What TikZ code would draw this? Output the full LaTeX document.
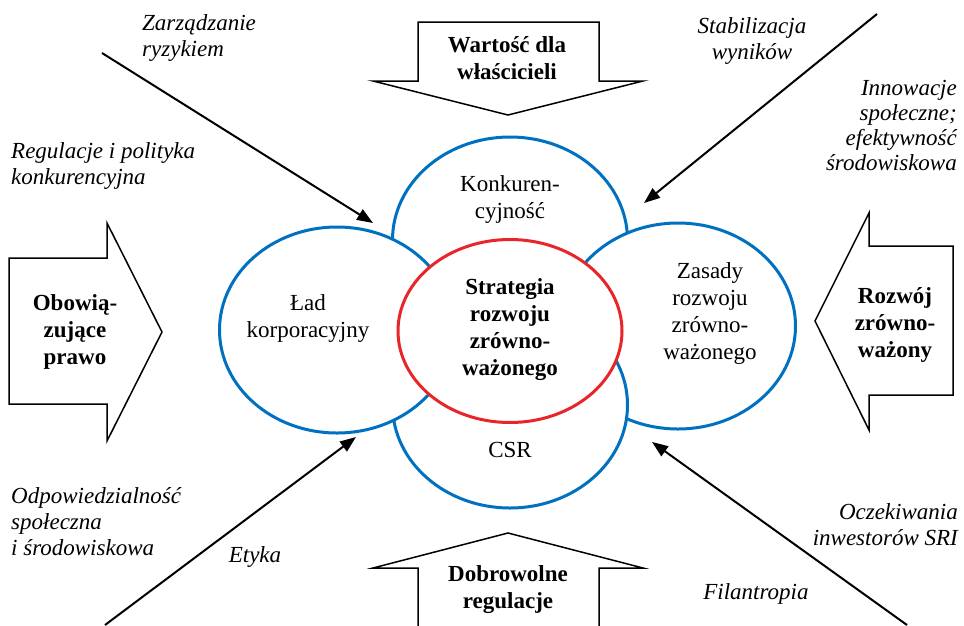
\documentclass[tikz,border=0pt]{standalone}
\usepackage{fontspec}
\setmainfont{Liberation Serif}
\usetikzlibrary{arrows.meta,shapes.geometric}
\definecolor{ringblue}{RGB}{0,112,192}
\definecolor{corered}{RGB}{232,38,42}
\begin{document}
\begin{tikzpicture}[x=1pt,y=-1pt,
  txt/.style={font=\fontsize{23}{27}\selectfont, align=center, inner sep=0pt},
  boldtxt/.style={txt, font=\fontsize{23}{27}\selectfont\bfseries},
  side/.style={font=\fontsize{23}{26}\selectfont\itshape, inner sep=0pt},
  ring/.style={ellipse, draw=ringblue, line width=3pt, fill=white, inner sep=0pt,
               minimum width=235pt, minimum height=206pt},
  core/.style={ellipse, draw=corered, line width=3pt, fill=white, inner sep=0pt,
               minimum width=224pt, minimum height=183pt},
  blockarrow/.style={draw=black, line width=1.5pt, fill=white, line join=miter},
  pointer/.style={line width=2pt, -{Triangle[length=16pt,width=12pt]}}
]
\useasboundingbox (0,0) rectangle (964,625);

% overlapping rings, drawn back to front
\node[ring] (ringtop) at (510,240) {};
\node[ring] (ringright) at (678,326) {};
\node[ring] (ringbottom) at (510,405) {};
\node[ring] (ringleft) at (337,330) {};
\node[core] (core) at (510,331) {};

% ring captions
\node[txt] (ttop) at (510,199) {Konkuren-\\cyjność};
\node[txt] (tleft) at (308,318) {Ład\\korporacyjny};
\node[txt] (tright) at (710,313) {Zasady\\rozwoju\\zrówno-\\ważonego};
\node[txt] (tbottom) at (510,450) {CSR};
\node[boldtxt] (tcore) at (510,330) {Strategia\\rozwoju\\zrówno-\\ważonego};

% block arrows
\draw[blockarrow] (418,22) -- (599,22) -- (599,81) -- (643,81) -- (508,115)
  -- (373,81) -- (418,81) -- cycle;
\draw[blockarrow] (418,628) -- (418,568) -- (373,568) -- (508,533) -- (643,568)
  -- (599,568) -- (599,628);
\draw[blockarrow] (9,258) -- (107,258) -- (107,223) -- (162,332) -- (107,441)
  -- (107,404) -- (9,404) -- cycle;
\draw[blockarrow] (953,246) -- (869,246) -- (869,213) -- (815,321) -- (869,430)
  -- (869,395) -- (953,395) -- cycle;

\node[boldtxt] (owners) at (507,58) {Wartość dla\\właścicieli};
\node[boldtxt] (voluntary) at (508,590) {Dobrowolne\\regulacje};
\node[boldtxt] (law) at (75,332) {Obowią-\\zujące\\prawo};
\node[boldtxt] (sustain) at (895,325) {Rozwój\\zrówno-\\ważony};

% side labels
\node[side, align=left, anchor=west] (risk) at (142,38) {Zarządzanie\\ryzykiem};
\node[side, align=left, anchor=west] (compet) at (11,166) {Regulacje i polityka\\konkurencyjna};
\node[side, align=center] (stab) at (752,41) {Stabilizacja\\wyników};
\node[side, align=right, anchor=east, font=\fontsize{23}{25}\selectfont\itshape]
  (innov) at (957,125) {Innowacje\\społeczne;\\efektywność\\środowiskowa};
\node[side, align=left, anchor=west] (resp) at (11,522) {Odpowiedzialność\\społeczna\\i środowiskowa};
\node[side] (ethics) at (255,557) {Etyka};
\node[side, align=right, anchor=east] (sri) at (958,525) {Oczekiwania\\inwestorów SRI};
\node[side] (phil) at (756,594) {Filantropia};

% pointers toward the rings
\coordinate (s1) at (102,53);   \coordinate (e1) at (373,223);
\coordinate (s2) at (877,14);   \coordinate (e2) at (644,203);
\coordinate (s3) at (105,625);  \coordinate (e3) at (356,437);
\coordinate (s4) at (907,625);  \coordinate (e4) at (652,442);
\draw[pointer] (s1) -- (e1);
\draw[pointer] (s2) -- (e2);
\draw[pointer] (s3) -- (e3);
\draw[pointer] (s4) -- (e4);
\end{tikzpicture}
\end{document}
